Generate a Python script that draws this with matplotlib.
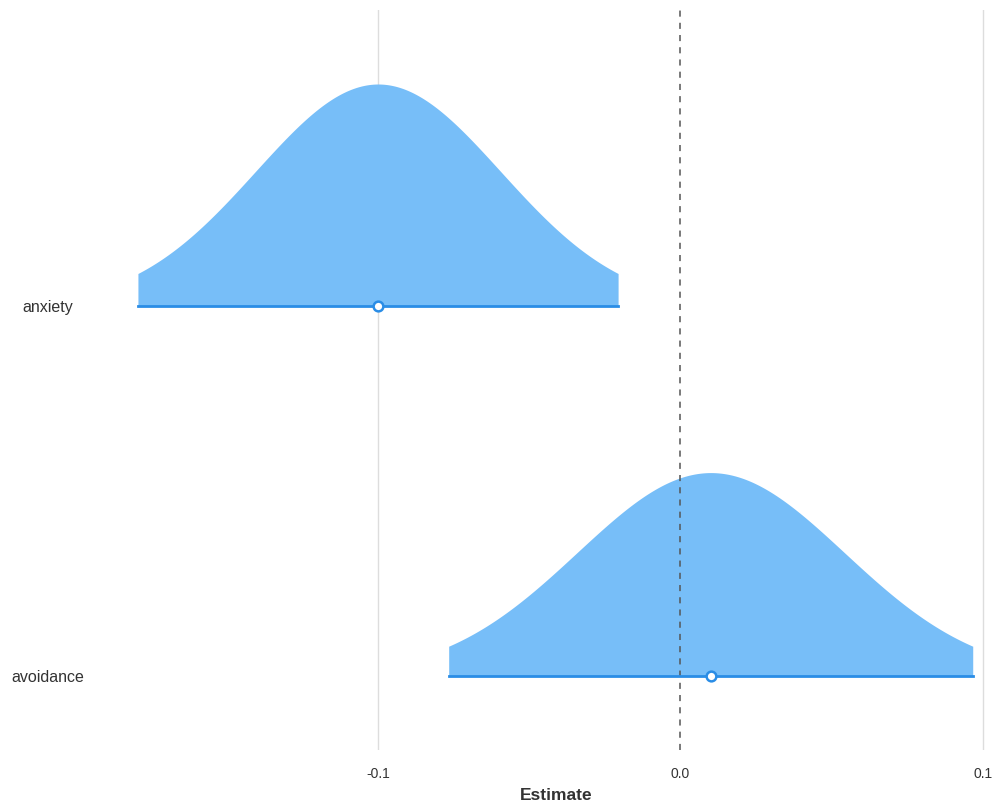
import numpy as np
import matplotlib.pyplot as plt

plt.rcParams['font.family'] = ['Liberation Sans', 'DejaVu Sans']

# posterior-style summaries for each term
terms = ["anxiety", "avoidance"]
estimates = [-0.100, 0.010]
std_errors = [0.0405, 0.0442]
x_ticks = [-0.1, 0.0, 0.1]
x_tick_labels = ["-0.1", "0.0", "0.1"]

z = 1.96
fill_color = "#77BEF8"
line_color = "#2A8DE6"

fig = plt.figure(figsize=(9.95, 8.07), dpi=100)
ax = fig.add_axes([117 / 995, 57 / 807, 878 / 995, 740 / 807])

rows = {t: len(terms) - i for i, t in enumerate(terms)}
peak = max(1 / (se * np.sqrt(2 * np.pi)) for se in std_errors)
row_height = 0.6

for xv in x_ticks:
    if xv != 0:
        ax.axvline(xv, color="#DDDDDD", lw=1, zorder=0)
ax.axvline(0, color="#555555", lw=1.1, ls=(0, (4, 4)), zorder=3)

for term, est, se in zip(terms, estimates, std_errors):
    y0 = rows[term]
    lo, hi = est - z * se, est + z * se
    xs = np.linspace(lo, hi, 300)
    dens = np.exp(-0.5 * ((xs - est) / se) ** 2) / (se * np.sqrt(2 * np.pi))
    ax.fill_between(xs, y0, y0 + dens / peak * row_height, color=fill_color,
                    lw=0, zorder=2)
    ax.plot([lo, hi], [y0, y0], color=line_color, lw=2, zorder=4)
    ax.plot(est, y0, "o", ms=7, mfc="white", mec=line_color, mew=1.8, zorder=5)

ax.set_xlim(-0.1863, 0.104)
ax.set_ylim(0.8, 2.8)
ax.set_xticks(x_ticks)
ax.set_xticklabels(x_tick_labels)
ax.set_yticks([rows[t] for t in terms])
ax.set_yticklabels(terms, ha="center")
ax.tick_params(axis="y", pad=50, length=0, labelsize=11.5, labelcolor="#333333")
ax.tick_params(axis="x", length=0, pad=12, labelsize=10, labelcolor="#333333")
for s in ax.spines.values():
    s.set_visible(False)
ax.set_xlabel("Estimate", fontsize=12.5, fontweight="bold", color="#333333", labelpad=5)

fig.savefig("out.png", dpi=100)
